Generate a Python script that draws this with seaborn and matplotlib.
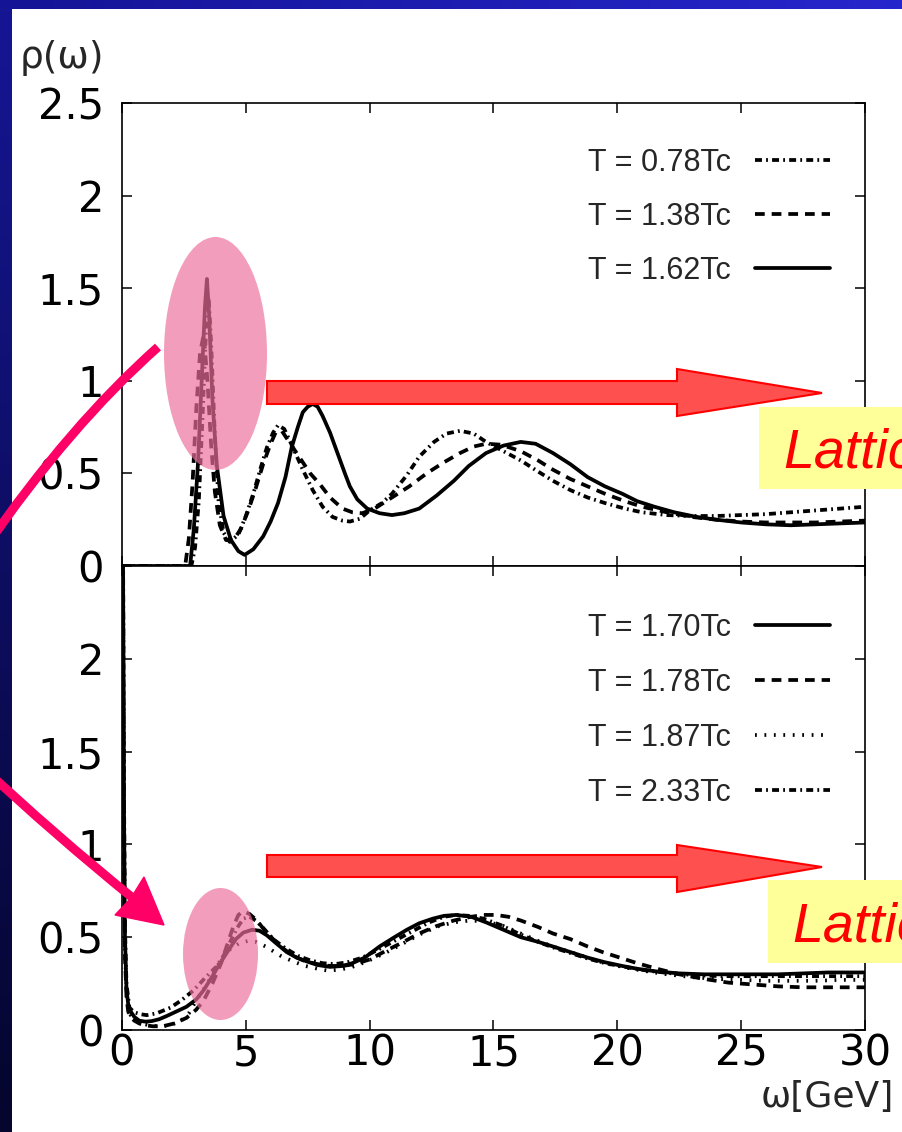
import numpy as np
import pandas as pd
import matplotlib
matplotlib.use("Agg")
import matplotlib.pyplot as plt
import seaborn as sns
from matplotlib.patches import Ellipse, Polygon, Rectangle, PathPatch
from matplotlib.path import Path

# ---------------- data ----------------
# upper panel
w_078 = [0, 2.8, 2.95, 3.1, 3.25, 3.4, 3.5, 3.6, 3.75, 3.9, 4.1, 4.35, 4.7, 5.0, 5.3, 5.6, 5.85,
         6.1, 6.3, 6.55, 6.9, 7.3, 7.7, 8.1, 8.5, 8.9, 9.2, 9.6, 10.0, 10.5, 10.9, 11.5, 12.0, 12.6,
         13.1, 13.65, 14.2, 14.7, 15.4, 16.1, 16.8, 17.4, 18.1, 18.8, 19.5, 20.3, 21.0, 22.0, 23.0,
         24.0, 25.0, 26.0, 27.0, 28.0, 29.0, 30.0]
r_078 = [0, 0, 0.1, 0.35, 0.8, 1.3, 1.45, 1.2, 0.7, 0.35, 0.18, 0.13, 0.17, 0.27, 0.39, 0.53, 0.64,
         0.72, 0.76, 0.74, 0.64, 0.52, 0.41, 0.32, 0.265, 0.245, 0.24, 0.255, 0.30, 0.34, 0.39, 0.49,
         0.59, 0.67, 0.715, 0.73, 0.715, 0.67, 0.62, 0.57, 0.51, 0.46, 0.41, 0.37, 0.34, 0.31, 0.29,
         0.275, 0.27, 0.27, 0.275, 0.28, 0.29, 0.30, 0.31, 0.32]

w_138 = [0, 2.55, 2.7, 2.85, 3.0, 3.15, 3.3, 3.45, 3.6, 3.75, 3.95, 4.2, 4.5, 4.8, 5.1, 5.4, 5.7,
         6.0, 6.2, 6.45, 6.8, 7.2, 7.6, 8.0, 8.4, 8.9, 9.3, 9.7, 10.2, 10.9, 11.6, 12.3, 13.0, 13.65,
         14.2, 14.7, 15.3, 16.1, 16.8, 17.4, 18.1, 18.8, 19.5, 20.3, 21.0, 22.0, 23.0, 24.0, 25.0,
         26.0, 27.0, 28.0, 29.0, 30.0]
r_138 = [0, 0, 0.15, 0.45, 0.85, 1.15, 1.25, 1.0, 0.65, 0.4, 0.22, 0.14, 0.14, 0.2, 0.3, 0.42, 0.55,
         0.66, 0.72, 0.73, 0.66, 0.58, 0.50, 0.44, 0.37, 0.31, 0.29, 0.285, 0.31, 0.37, 0.43, 0.50,
         0.56, 0.61, 0.645, 0.66, 0.655, 0.62, 0.57, 0.52, 0.47, 0.43, 0.39, 0.35, 0.32, 0.29, 0.265,
         0.25, 0.24, 0.235, 0.235, 0.235, 0.24, 0.245]

w_162 = [0, 2.75, 2.9, 3.07, 3.2, 3.35, 3.43, 3.52, 3.65, 3.83, 4.1, 4.4, 4.7, 4.95, 5.3, 5.7, 6.0,
         6.3, 6.6, 6.85, 7.1, 7.3, 7.5, 7.7, 7.9, 8.1, 8.4, 8.7, 9.0, 9.2, 9.5, 9.9, 10.4, 10.9,
         11.4, 12.0, 12.7, 13.4, 14.0, 14.7, 15.4, 16.1, 16.7, 17.4, 18.1, 18.8, 19.5, 20.2, 20.8,
         21.5, 22.3, 23.2, 24.0, 25.0, 26.0, 27.0, 28.0, 29.0, 30.0]
r_162 = [0, 0, 0.2, 0.56, 0.95, 1.4, 1.55, 1.35, 0.9, 0.54, 0.27, 0.14, 0.08, 0.06, 0.09, 0.16, 0.24,
         0.34, 0.48, 0.64, 0.75, 0.83, 0.86, 0.875, 0.86, 0.81, 0.72, 0.61, 0.5, 0.43, 0.36, 0.31,
         0.285, 0.275, 0.285, 0.31, 0.38, 0.46, 0.54, 0.61, 0.65, 0.67, 0.66, 0.61, 0.55, 0.48, 0.43,
         0.39, 0.35, 0.32, 0.29, 0.265, 0.25, 0.235, 0.225, 0.22, 0.225, 0.23, 0.235]

# lower panel
w_170 = [0.0, 0.04, 0.08, 0.12, 0.18, 0.25, 0.35, 0.5, 0.7, 0.95, 1.2, 1.5, 1.8, 2.2, 2.6, 3.0, 3.3,
         3.65, 3.96, 4.3, 4.6, 4.9, 5.25, 5.55, 5.85, 6.2, 6.65, 7.05, 7.45, 7.9, 8.4, 8.9, 9.3, 9.8,
         10.4, 11.0, 11.5, 12.0, 12.55, 13.0, 13.5, 14.1, 14.7, 15.4, 16.1, 16.8, 17.4, 18.1, 18.8,
         19.5, 20.2, 20.8, 21.6, 22.5, 23.5, 24.5, 25.5, 26.5, 27.5, 28.5, 29.5, 30.0]
r_170 = [4.0, 2.6, 1.2, 0.5, 0.22, 0.14, 0.1, 0.07, 0.05, 0.045, 0.048, 0.058, 0.075, 0.1, 0.125,
         0.165, 0.215, 0.29, 0.36, 0.43, 0.49, 0.525, 0.54, 0.535, 0.51, 0.47, 0.42, 0.39, 0.37,
         0.35, 0.34, 0.345, 0.36, 0.39, 0.45, 0.5, 0.54, 0.575, 0.6, 0.615, 0.62, 0.61, 0.58, 0.54,
         0.50, 0.475, 0.45, 0.42, 0.39, 0.365, 0.345, 0.33, 0.315, 0.305, 0.30, 0.30, 0.30, 0.30,
         0.305, 0.31, 0.31, 0.31]

w_178 = [0.0, 0.04, 0.08, 0.12, 0.18, 0.25, 0.35, 0.5, 0.7, 0.95, 1.25, 1.65, 2.1, 2.6, 3.0, 3.3,
         3.65, 4.0, 4.25, 4.5, 4.7, 4.9, 5.15, 5.45, 5.8, 6.4, 6.9, 7.4, 7.9, 8.4, 8.9, 9.4, 10.0,
         10.7, 11.3, 12.0, 12.7, 13.4, 14.1, 14.6, 15.1, 15.6, 16.1, 16.8, 17.4, 18.1, 18.8, 19.4,
         20.1, 20.8, 21.6, 22.5, 23.5, 24.5, 25.5, 26.5, 27.5, 28.5, 29.5, 30.0]
r_178 = [4.0, 2.4, 1.0, 0.4, 0.18, 0.1, 0.07, 0.05, 0.035, 0.025, 0.02, 0.02, 0.035, 0.065, 0.11,
         0.16, 0.25, 0.36, 0.46, 0.56, 0.62, 0.64, 0.625, 0.59, 0.53, 0.45, 0.40, 0.37, 0.355,
         0.345, 0.345, 0.355, 0.38, 0.43, 0.47, 0.52, 0.56, 0.59, 0.61, 0.62, 0.62, 0.61, 0.59,
         0.555, 0.52, 0.49, 0.45, 0.42, 0.39, 0.36, 0.33, 0.30, 0.275, 0.255, 0.245, 0.235, 0.23,
         0.23, 0.23, 0.23]

w_187 = [0.0, 0.04, 0.08, 0.12, 0.18, 0.25, 0.35, 0.5, 0.7, 0.95, 1.25, 1.65, 2.0, 2.35, 2.7, 3.0,
         3.4, 3.75, 4.0, 4.4, 4.77, 5.1, 5.4, 5.8, 6.4, 6.9, 7.4, 7.9, 8.3, 8.8, 9.3, 9.9, 10.7,
         11.4, 12.1, 12.8, 13.4, 14.05, 14.7, 15.4, 16.1, 16.8, 17.4, 18.1, 18.8, 19.5, 20.2, 21.0,
         22.0, 23.0, 24.0, 25.0, 26.0, 27.0, 28.0, 29.0, 30.0]
r_187 = [4.0, 2.5, 1.1, 0.45, 0.2, 0.12, 0.08, 0.055, 0.04, 0.03, 0.022, 0.02, 0.03, 0.045, 0.09,
         0.16, 0.24, 0.32, 0.38, 0.44, 0.47, 0.48, 0.475, 0.45, 0.40, 0.37, 0.345, 0.33, 0.32,
         0.325, 0.34, 0.37, 0.42, 0.47, 0.52, 0.56, 0.58, 0.59, 0.585, 0.56, 0.52, 0.48, 0.45, 0.42,
         0.39, 0.36, 0.34, 0.32, 0.30, 0.285, 0.275, 0.27, 0.265, 0.265, 0.265, 0.27, 0.27]

w_233 = [0.0, 0.04, 0.08, 0.12, 0.18, 0.3, 0.5, 0.75, 1.0, 1.4, 1.95, 2.4, 2.9, 3.35, 3.8, 4.1,
         4.35, 4.65, 4.9, 5.15, 5.4, 5.7, 6.1, 6.6, 7.1, 7.6, 8.1, 8.6, 9.1, 9.7, 10.3, 11.0, 11.7,
         12.4, 13.0, 13.5, 14.0, 14.6, 15.3, 16.0, 16.7, 17.4, 18.1, 18.8, 19.5, 20.3, 21.2, 22.2,
         23.2, 24.2, 25.2, 26.2, 27.2, 28.2, 29.2, 30.0]
r_233 = [4.0, 2.7, 1.3, 0.55, 0.25, 0.12, 0.095, 0.085, 0.08, 0.09, 0.12, 0.16, 0.215, 0.28, 0.34,
         0.40, 0.47, 0.55, 0.6, 0.61, 0.59, 0.55, 0.49, 0.44, 0.40, 0.375, 0.36, 0.355, 0.365,
         0.39, 0.43, 0.48, 0.53, 0.58, 0.61, 0.62, 0.615, 0.6, 0.565, 0.52, 0.48, 0.445, 0.415,
         0.385, 0.36, 0.34, 0.32, 0.305, 0.295, 0.29, 0.29, 0.29, 0.29, 0.29, 0.29, 0.29]

top_labels = ["T = 0.78Tc", "T = 1.38Tc", "T = 1.62Tc"]
bot_labels = ["T = 1.70Tc", "T = 1.78Tc", "T = 1.87Tc", "T = 2.33Tc"]
x_ticks = [0, 5, 10, 15, 20, 25, 30]
y_ticks = [0, 0.5, 1, 1.5, 2, 2.5]
y_ticklabels_top = ["0", "0.5", "1", "1.5", "2", "2.5"]
y_ticklabels_bot = ["0", "0.5", "1", "1.5", "2", ""]

# ---------------- style ----------------
sns.set_style("ticks")
plt.rcParams["font.family"] = ["DejaVu Sans"]
plt.rcParams["lines.scale_dashes"] = False
plt.rcParams["axes.linewidth"] = 1.2
plt.rcParams["axes.edgecolor"] = "black"

DASH = (0, (7, 5))
DASHDOT = (0, (5, 3, 1.3, 3))
DOT = (0, (1.3, 5.5))
SOLID = "-"

W, H = 903, 1132
fig = plt.figure(figsize=(W / 100, H / 100), dpi=100)
fig.patch.set_facecolor("white")

L, R = 122, 865
ax1 = fig.add_axes([L / W, 1 - 566 / H, (R - L) / W, 463 / H])
ax2 = fig.add_axes([L / W, 1 - 1030 / H, (R - L) / W, 464 / H])

top_series = [(w_078, r_078, DASHDOT, top_labels[0]),
              (w_138, r_138, DASH, top_labels[1]),
              (w_162, r_162, SOLID, top_labels[2])]
bot_series = [(w_170, r_170, SOLID, bot_labels[0]),
              (w_178, r_178, DASH, bot_labels[1]),
              (w_187, r_187, DOT, bot_labels[2]),
              (w_233, r_233, DASHDOT, bot_labels[3])]

LEG_FONT = {"family": "Liberation Sans", "size": 22}

def draw(ax, series):
    for w, r, ls, lab in series:
        df = pd.DataFrame({"omega": w, "rho": r})
        sns.lineplot(data=df, x="omega", y="rho", ax=ax, color="black", linewidth=2.7,
                     linestyle=ls, label=lab, legend=False, errorbar=None)
    ax.set_xlim(0, 30)
    ax.set_ylim(0, 2.5)
    ax.set_xlabel("")
    ax.set_ylabel("")
    ax.set_xticks(x_ticks)
    ax.set_yticks(y_ticks)
    ax.tick_params(direction="in", length=7, width=1.1, top=True, right=True,
                   labelsize=30, colors="black")
    ax.tick_params(axis="y", pad=13)
    ax.tick_params(axis="x", pad=2)
    for s in ax.spines.values():
        s.set_visible(True)
        s.set_linewidth(1.2)

draw(ax1, top_series)
ax1.set_yticklabels(y_ticklabels_top)
ax1.tick_params(labelbottom=False)
ax1.legend(loc="upper right", bbox_to_anchor=(0.953, 0.903), frameon=False, markerfirst=False,
           prop=LEG_FONT, handlelength=2.45, handletextpad=0.8, labelspacing=0.78,
           borderpad=0, borderaxespad=0)

draw(ax2, bot_series)
ax2.set_yticklabels(y_ticklabels_bot)
ax2.set_xticklabels([str(t) for t in x_ticks])
ax2.legend(loc="upper right", bbox_to_anchor=(0.953, 0.899), frameon=False, markerfirst=False,
           prop=LEG_FONT, handlelength=2.45, handletextpad=0.8, labelspacing=0.82,
           borderpad=0, borderaxespad=0)

fig.text(20 / W, 1 - 58 / H, "ρ(ω)", ha="left", va="center", fontsize=27)
fig.text(894 / W, 1 - 1097 / H, "ω[GeV]", ha="right", va="center", fontsize=26)

# ---------------- slide decorations (figure-pixel overlay) ----------------
ov = fig.add_axes([0, 0, 1, 1], zorder=10)
ov.patch.set_alpha(0)
ov.axis("off")

grad_left = np.linspace([22, 22, 150], [5, 5, 45], 200)[:, None, :] / 255.0
ov.imshow(grad_left, extent=(0, 12, H, 0), aspect="auto", zorder=1, origin="upper")
grad_top = np.linspace([20, 20, 150], [38, 38, 205], 200)[None, :, :] / 255.0
ov.imshow(grad_top, extent=(0, W, 9, 0), aspect="auto", zorder=1, origin="upper")

ov.add_patch(Ellipse((215.5, 353.5), 103, 233, facecolor="#ee6f9c", alpha=0.68,
                     edgecolor="none", zorder=2))
ov.add_patch(Ellipse((220.5, 954), 75, 132, facecolor="#ee6f9c", alpha=0.68,
                     edgecolor="none", zorder=2))

for (y0, y1, hy0, hy1, ty) in [(381, 404, 369, 416, 393), (855, 877, 845, 892, 867)]:
    ov.add_patch(Polygon([(267, y0), (677, y0), (677, hy0), (822, ty), (677, hy1),
                          (677, y1), (267, y1)], closed=True, facecolor="#ff5050",
                         edgecolor="#ff0000", lw=1.5, zorder=3))

ov.add_patch(Rectangle((759, 407), 200, 82, facecolor="#ffff99", edgecolor="none", zorder=3))
ov.add_patch(Rectangle((768, 880), 200, 83, facecolor="#ffff99", edgecolor="none", zorder=3))
ov.text(783, 468, "Lattice", fontsize=40, style="italic", color="#ff0000",
        family="Liberation Sans", va="baseline", ha="left", zorder=4, clip_on=True)
ov.text(792, 942, "Lattice", fontsize=40, style="italic", color="#ff0000",
        family="Liberation Sans", va="baseline", ha="left", zorder=4, clip_on=True)

MAG = "#ff0066"
p1 = Path([(158, 347), (70, 425), (-15, 548)], [Path.MOVETO, Path.CURVE3, Path.CURVE3])
ov.add_patch(PathPatch(p1, fill=False, edgecolor=MAG, lw=6.5, capstyle="butt", zorder=5))
p2 = Path([(-20, 765), (55, 835), (134, 899)], [Path.MOVETO, Path.CURVE3, Path.CURVE3])
ov.add_patch(PathPatch(p2, fill=False, edgecolor=MAG, lw=6.5, capstyle="butt", zorder=5))
ov.add_patch(Polygon([(144, 877), (164, 925), (115, 915), (131, 898)], closed=True,
                     facecolor=MAG, edgecolor=MAG, lw=1, zorder=5))

ov.set_xlim(0, W)
ov.set_ylim(H, 0)

fig.savefig("out.png", dpi=100)
